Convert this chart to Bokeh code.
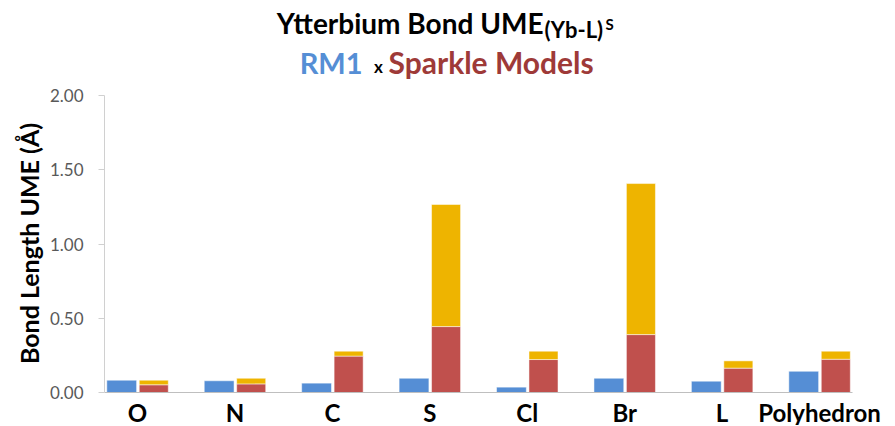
import math
from bokeh.plotting import figure
from bokeh.models import Range1d, Label, FixedTicker, NumeralTickFormatter, ColumnDataSource
from bokeh.transform import dodge
from bokeh.embed import file_html
from bokeh.resources import INLINE

categories = ["O", "N", "C", "S", "Cl", "Br", "L", "Polyhedron"]
rm1 = [0.083, 0.079, 0.063, 0.096, 0.036, 0.096, 0.076, 0.143]
sparkle_a = [0.052, 0.058, 0.245, 0.444, 0.222, 0.390, 0.164, 0.224]
sparkle_b = [0.031, 0.038, 0.033, 0.822, 0.056, 1.017, 0.049, 0.054]
y_ticks = [0.0, 0.5, 1.0, 1.5, 2.0]

BLUE = "#558ED5"
RED = "#C0504D"
GOLD = "#EEB400"
DARKRED = "#9E3A38"
FONT = "Lato"

# layout (pixels): frame spans canvas x 0..887, y 0..425; axes drawn at x=104..852 / y=392
FRAME_W, FRAME_H = 887, 425
CAT_PX, FIRST_PX, AXIS_PX, AXIS_END_PX = 97.43, 137.0, 104.0, 852.0
PX_PER_UNIT, TOP_PX, BASE_PX = 148.5, 95.0, 392.0

x0 = -FIRST_PX / CAT_PX
x1 = (FRAME_W - FIRST_PX) / CAT_PX
y1 = 2.0 + TOP_PX / PX_PER_UNIT
y0 = -(FRAME_H - BASE_PX) / PX_PER_UNIT
axis_x = (AXIS_PX - FIRST_PX) / CAT_PX
axis_x_end = (AXIS_END_PX - FIRST_PX) / CAT_PX

xs = list(range(len(categories)))
src = ColumnDataSource(dict(x=xs, rm1=rm1, a=sparkle_a, b=sparkle_b))

p = figure(title=None, frame_width=FRAME_W, frame_height=FRAME_H,
           x_range=Range1d(x0, x1), y_range=Range1d(y0, y1),
           output_backend="svg", toolbar_location=None,
           min_border_left=0, min_border_right=0, min_border_top=0, min_border_bottom=0)

p.vbar(x=dodge("x", -0.162, range=p.x_range), top="rm1", bottom=0, width=0.306, source=src,
       fill_color=BLUE, line_color="white", line_width=0.5)
p.vbar_stack(["a", "b"], x=dodge("x", 0.167, range=p.x_range), width=0.298, source=src,
             fill_color=[RED, GOLD], line_color="white", line_width=0.5)

p.xgrid.visible = False
p.ygrid.visible = False
p.outline_line_color = None

xa = p.xaxis[0]
xa.fixed_location = 0
xa.ticker = FixedTicker(ticks=xs)
xa.bounds = (axis_x, axis_x_end)
xa.major_label_overrides = {i: c for i, c in enumerate(categories)}
xa.major_tick_out = 0
xa.major_tick_in = 0
xa.minor_tick_out = 0
xa.minor_tick_in = 0
xa.axis_line_color = "#BFBFBF"
xa.major_label_text_font = FONT
xa.major_label_text_font_style = "bold"
xa.major_label_text_font_size = "24px"
xa.major_label_text_color = "black"
xa.major_label_standoff = 5

ya = p.yaxis[0]
ya.fixed_location = axis_x
ya.bounds = (0, 2.0)
ya.ticker = FixedTicker(ticks=y_ticks)
ya.formatter = NumeralTickFormatter(format="0.00")
ya.major_tick_out = 6
ya.major_tick_in = 0
ya.minor_tick_out = 0
ya.minor_tick_in = 0
ya.axis_line_color = "#D0D0D0"
ya.major_tick_line_color = "#D0D0D0"
ya.major_label_text_font = FONT
ya.major_label_text_font_size = "17px"
ya.major_label_text_color = "#595959"
ya.major_label_standoff = 15


def lab(text, sx, sy, size, color, align="left", angle=0.0):
    # sx, sy: canvas pixels (from top-left) of the text's baseline anchor
    fs = float(size.replace("px", ""))
    lift = 0.36 * fs  # baseline correction observed for Label text
    if angle:
        x, y = sx - lift, FRAME_H - sy
    else:
        x, y = sx, FRAME_H - sy + lift
    p.add_layout(Label(text=text, x=x, y=y, x_units="screen", y_units="screen",
                       angle=angle, text_font=FONT, text_font_style="bold",
                       text_font_size=size, text_color=color, text_align=align,
                       text_baseline="alphabetic"))


lab("Ytterbium Bond UME", 543, 33, "28px", "black", "right")
lab("(Yb-L)", 544, 37, "22px", "black")
lab("S", 605, 29, "15px", "black")
lab("RM1", 362, 72, "29px", BLUE, "right")
lab("x", 378, 72, "17px", "black", "center")
lab("Sparkle Models", 388, 72, "30px", DARKRED)
lab("Bond Length UME (Å)", 37, 243, "25px", "black", "center", math.pi / 2)

open("out.html", "w").write(file_html(p, INLINE))
